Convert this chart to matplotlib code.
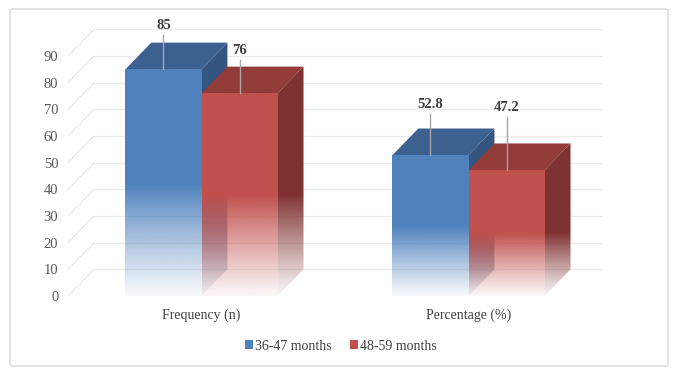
import numpy as np
import matplotlib.pyplot as plt
from matplotlib.patches import Polygon, Rectangle, FancyBboxPatch

plt.rcParams['font.family'] = ['Liberation Serif', 'DejaVu Serif']

categories = ['Frequency (n)', 'Percentage (%)']
series = ['36-47 months', '48-59 months']
values = {
    '36-47 months': [85, 52.8],
    '48-59 months': [76, 47.2],
}
value_labels = {
    '36-47 months': ['85', '52.8'],
    '48-59 months': ['76', '47.2'],
}
yticks = list(range(0, 100, 10))

# style
front = {'36-47 months': '#4f81bd', '48-59 months': '#c0504d'}
top = {'36-47 months': '#3c6190', '48-59 months': '#923c3a'}
side = {'36-47 months': '#345580', '48-59 months': '#7e3231'}
label_lift = {'36-47 months': [16.5, 19.0], '48-59 months': [16.0, 23.5]}
width = 0.285
dx, dy = 0.097, 10.0
grid_col = '#ebebeb'
text_col = '#404040'


def fade(y, v):
    t = np.clip(y / v, 0, None)
    a = np.where(t >= 0.5, 1.0, 0.05 + 0.95 * (t / 0.5) ** 1.1)
    return np.clip(a, 0, 1)


def grad_face(ax, color, verts, v, z):
    xs = [p[0] for p in verts]
    ys = [p[1] for p in verts]
    y0, y1 = min(ys), max(ys)
    n = 200
    yy = np.linspace(y0, y1, n)
    rgba = np.zeros((n, 2, 4))
    rgba[:, :, :3] = np.array(plt.matplotlib.colors.to_rgb(color))
    rgba[:, :, 3] = fade(yy, v)[:, None]
    im = ax.imshow(rgba, extent=[min(xs), max(xs), y0, y1], origin='lower',
                   aspect='auto', interpolation='bilinear', zorder=z)
    clip = Polygon(verts, closed=True, transform=ax.transData, fc='none', ec='none')
    ax.add_patch(clip)
    im.set_clip_path(clip)


fig = plt.figure(figsize=(6.82, 3.80), dpi=100)
ax = fig.add_axes([68 / 682, 84 / 380, 534 / 682, 266.7 / 380])
ax.set_xlim(-0.5, 1.5)
ax.set_ylim(0, 100)
for s in ax.spines.values():
    s.set_visible(False)

# walls: back gridlines and side diagonals
for t in yticks:
    ax.plot([-0.5 + dx, 1.5 + dx], [t + dy, t + dy], color=grid_col, lw=1.0, zorder=1)
    ax.plot([-0.5, -0.5 + dx], [t, t + dy], color='#d6d6d6', lw=0.8,
            ls=(0, (1.5, 1)), zorder=1)

for si, name in enumerate(series):
    z = 2 + si
    for ci, v in enumerate(values[name]):
        x0 = ci - width if si == 0 else ci
        x1 = x0 + width
        # right side face
        grad_face(ax, side[name],
                  [(x1, 0), (x1 + dx, dy), (x1 + dx, v + dy), (x1, v)], v, z)
        # top face
        ax.add_patch(Polygon([(x0, v), (x1, v), (x1 + dx, v + dy), (x0 + dx, v + dy)],
                             closed=True, fc=top[name], ec='none', zorder=z))
        # front face
        grad_face(ax, front[name], [(x0, 0), (x1, 0), (x1, v), (x0, v)], v, z)
        # data label with leader line
        xc = (x0 + x1) / 2
        ly = v + label_lift[name][ci]
        ax.plot([xc, xc], [v, ly - 3.5], color='#a6a6a6', lw=1.0, zorder=6, clip_on=False)
        ax.text(xc, ly, value_labels[name][ci], ha='center', va='center',
                fontsize=10.5, fontweight='bold', color=text_col, zorder=7)

ax.set_xlim(-0.5, 1.5)
ax.set_ylim(0, 100)
ax.set_yticks(yticks)
ax.set_xticks(range(len(categories)))
ax.set_xticklabels(categories)
ax.tick_params(axis='y', length=0, pad=7, labelsize=10.5, labelcolor='#595959')
ax.tick_params(axis='x', length=0, pad=9, labelsize=10, labelcolor=text_col)

handles = [Rectangle((0, 0), 1, 1, fc=front[n], ec='none') for n in series]
fig.legend(handles, series, loc='center', bbox_to_anchor=(341 / 682, 1 - 346 / 380),
           ncol=2, frameon=False, fontsize=10, handlelength=0.6, handleheight=0.6,
           handletextpad=0.15, columnspacing=1.3, labelcolor=text_col)

fig.patches.append(FancyBboxPatch((10 / 682, 14 / 380), 658 / 682, 357 / 380,
                                  boxstyle='round,pad=0,rounding_size=0.004',
                                  transform=fig.transFigure, fill=False,
                                  ec='#d9d9d9', lw=1.0))

plt.savefig('out.png', dpi=100)
